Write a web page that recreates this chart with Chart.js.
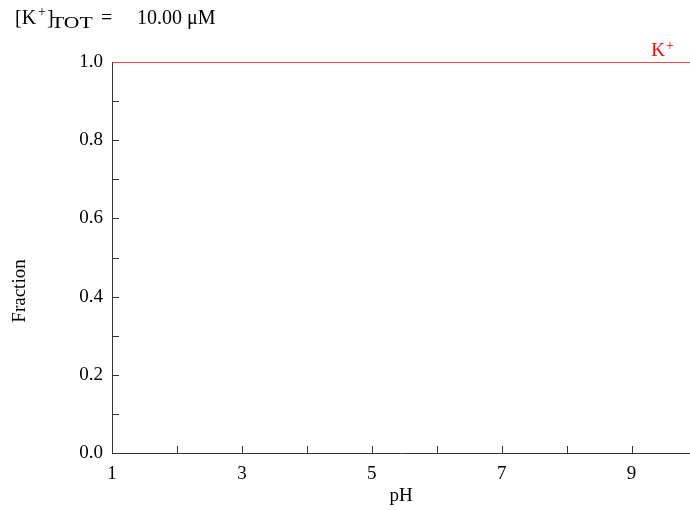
<!DOCTYPE html>
<html>
<head>
<meta charset="utf-8">
<script src="https://cdn.jsdelivr.net/npm/chart.js@4/dist/chart.umd.min.js"></script>
<style>
  html, body { margin: 0; padding: 0; background: #fff; }
  canvas { display: block; }
</style>
</head>
<body>
<canvas id="speciation" width="690" height="510"></canvas>
<script>
// Data
const phValues = [1, 3, 5, 7, 9, 9.9];
const kPlusFraction = [1, 1, 1, 1, 1, 1];
const xTickLabels = [1, 3, 5, 7, 9];
const yTickLabels = [0.0, 0.2, 0.4, 0.6, 0.8, 1.0];

const serif = "'Liberation Serif', 'Times New Roman', serif";
const axisColor = '#333333';

// Inward tick marks, header text, y title and the series label
const decorations = {
    id: 'decorations',
    afterDraw(chart) {
        const ctx = chart.ctx;
        const area = chart.chartArea;
        const xs = chart.scales.x;
        const ys = chart.scales.y;
        ctx.save();
        ctx.strokeStyle = axisColor;
        ctx.lineWidth = 1;
        ctx.beginPath();
        for (let v = 2; v <= 9; v++) {
            const px = Math.round(xs.getPixelForValue(v)) + 0.5;
            ctx.moveTo(px, area.bottom);
            ctx.lineTo(px, area.bottom - 7);
        }
        for (let i = 1; i < 10; i++) {
            const py = Math.round(ys.getPixelForValue(i / 10)) + 0.5;
            ctx.moveTo(area.left, py);
            ctx.lineTo(area.left + 7, py);
        }
        ctx.stroke();

        // header: [K+]TOT = 10.00 μM
        ctx.fillStyle = '#000';
        ctx.textBaseline = 'alphabetic';
        ctx.font = '20px ' + serif;
        let x = 15;
        const base = 24;
        ctx.fillText('[K', x, base);
        x += ctx.measureText('[K').width + 2;
        ctx.font = '14px ' + serif;
        ctx.fillText('+', x, base - 8);
        x += ctx.measureText('+').width + 1;
        ctx.font = '20px ' + serif;
        ctx.fillText(']', x, base);
        // subscript is drawn a little wide, as in the source figure
        ctx.save();
        ctx.translate(51, base + 4);
        ctx.scale(1.35, 1);
        ctx.font = '16px ' + serif;
        ctx.fillText('TOT', 0, 0);
        ctx.restore();
        ctx.font = '20px ' + serif;
        ctx.fillText('=', 101, base);
        ctx.fillText('10.00 \u03bcM', 137, base);

        // y axis title, rotated
        ctx.save();
        ctx.translate(25, 291);
        ctx.rotate(-Math.PI / 2);
        ctx.textAlign = 'center';
        ctx.font = '19px ' + serif;
        ctx.fillText('Fraction', 0, 0);
        ctx.restore();

        // series label
        ctx.fillStyle = '#ff0000';
        ctx.font = '19px ' + serif;
        ctx.textAlign = 'right';
        ctx.fillText('K', 665, 56);
        ctx.textAlign = 'left';
        ctx.font = '14px ' + serif;
        ctx.fillText('+', 666, 50);
        ctx.restore();
    }
};

new Chart(document.getElementById('speciation'), {
    type: 'line',
    data: {
        datasets: [{
            label: 'K+',
            data: phValues.map((p, i) => ({ x: p, y: kPlusFraction[i] })),
            borderColor: '#ff0000',
            borderWidth: 1.5,
            pointRadius: 0,
            fill: false,
            tension: 0
        }]
    },
    options: {
        responsive: false,
        animation: false,
        layout: { padding: { top: 62, right: 0, left: 0, bottom: 0 } },
        plugins: {
            legend: { display: false },
            tooltip: { enabled: false }
        },
        scales: {
            x: {
                type: 'linear',
                min: 1,
                max: 9.9,
                afterFit(scale) { scale.height = 57; },
                afterBuildTicks(scale) {
                    scale.ticks = xTickLabels.map(v => ({ value: v }));
                },
                ticks: {
                    color: '#000',
                    padding: 10,
                    maxRotation: 0,
                    font: { family: serif, size: 19 },
                    callback: v => String(v)
                },
                grid: { display: false, drawTicks: false },
                border: { display: true, color: axisColor, width: 1 },
                title: {
                    display: true,
                    text: 'pH',
                    color: '#000',
                    font: { family: serif, size: 19 },
                    padding: { top: 0, bottom: 3 }
                }
            },
            y: {
                type: 'linear',
                min: 0,
                max: 1,
                afterFit(scale) { scale.width = 112; },
                afterBuildTicks(scale) {
                    scale.ticks = yTickLabels.map(v => ({ value: v }));
                },
                ticks: {
                    color: '#000',
                    padding: 9,
                    font: { family: serif, size: 19 },
                    callback: v => v.toFixed(1)
                },
                grid: { display: false, drawTicks: false },
                border: { display: true, color: axisColor, width: 1 }
            }
        }
    },
    plugins: [decorations]
});
</script>
</body>
</html>
